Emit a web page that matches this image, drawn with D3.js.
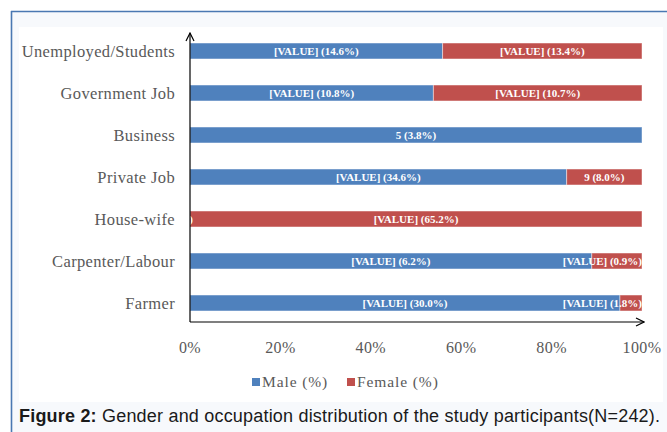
<!DOCTYPE html>
<html>
<head>
<meta charset="utf-8">
<script src="https://cdn.jsdelivr.net/npm/d3@7"></script>
<style>
  html, body { margin: 0; padding: 0; background: #fff; }
  svg { display: block; }
</style>
</head>
<body>
<svg id="chart" width="667" height="432"></svg>
<script>
(function () {
  'use strict';

  const W = 667;
  const H = 432;

  // occupations, top to bottom
  const categories = ['Unemployed/Students', 'Government Job', 'Business', 'Private Job',
    'House-wife', 'Carpenter/Labour', 'Farmer'];
  // counts (male total 130, female total 112)
  const maleCounts = [19, 14, 5, 45, 0, 8, 39];
  const femaleCounts = [15, 12, 0, 9, 73, 1, 2];
  // label text as printed on the bars
  const maleLabels = ['[VALUE] (14.6%)', '[VALUE] (10.8%)', '5 (3.8%)', '[VALUE] (34.6%)',
    '0 (0.0%)', '[VALUE] (6.2%)', '[VALUE] (30.0%)'];
  const femaleLabels = ['[VALUE] (13.4%)', '[VALUE] (10.7%)', '', '9 (8.0%)',
    '[VALUE] (65.2%)', '[VALUE] (0.9%)', '[VALUE] (1.8%)'];
  const ticks = [0, 0.2, 0.4, 0.6, 0.8, 1];
  const series = ['Male (%)', 'Female (%)'];
  const colors = ['#4f81bd', '#c0504d'];

  const svg = d3.select('#chart');
  const serif = '"Liberation Serif", "Times New Roman", serif';

  // page frame
  svg.append('rect').attr('x', 0).attr('y', 0).attr('width', W).attr('height', H).attr('fill', '#fff');
  svg.append('rect').attr('x', 11).attr('y', 11).attr('width', W - 11).attr('height', H - 11)
    .attr('fill', '#f7f9fc');
  svg.append('line').attr('x1', 11).attr('x2', W).attr('y1', 11.5).attr('y2', 11.5)
    .attr('stroke', '#4a78b2').attr('stroke-width', 1.6);
  svg.append('line').attr('x1', 11.5).attr('x2', 11.5).attr('y1', 11).attr('y2', H)
    .attr('stroke', '#4a78b2').attr('stroke-width', 1.6);
  svg.append('rect').attr('x', 19).attr('y', 27).attr('width', 644).attr('height', 375)
    .attr('fill', '#fff');

  const x = d3.scaleLinear().domain([0, 1]).range([190, 642]);
  const y = d3.scaleBand().domain(categories).range([30, 324])
    .paddingInner(0.62).paddingOuter(0.31);

  const rows = categories.map((c, i) => {
    const tot = maleCounts[i] + femaleCounts[i];
    const m = maleCounts[i] / tot;
    return [
      { cat: c, s: 0, x0: 0, x1: m, v: maleCounts[i], label: maleLabels[i] },
      { cat: c, s: 1, x0: m, x1: 1, v: femaleCounts[i], label: femaleLabels[i] }
    ];
  }).flat();

  svg.append('g').selectAll('rect')
    .data(rows.filter(d => d.v > 0))
    .join('rect')
    .attr('x', d => x(d.x0))
    .attr('y', d => y(d.cat))
    .attr('width', d => x(d.x1) - x(d.x0))
    .attr('height', y.bandwidth())
    .attr('fill', d => colors[d.s])
    .attr('stroke', 'rgba(255,255,255,0.45)')
    .attr('stroke-width', 1);

  // bar labels
  const lab = svg.append('g')
    .style('font-family', serif)
    .style('font-weight', 'bold')
    .style('font-size', '11px')
    .attr('fill', '#fff');

  rows.filter(d => d.label).forEach(d => {
    const t = lab.append('text')
      .attr('y', y(d.cat) + y.bandwidth() / 2)
      .attr('dy', '0.35em');
    if (d.v === 0) {
      // zero-width segment: only the tail of the label shows over the bar
      t.attr('x', x(d.x0) + 3).attr('text-anchor', 'end').text(d.label.slice(-1));
      return;
    }
    t.text(d.label);
    const w = t.node().getComputedTextLength();
    let cx = (x(d.x0) + x(d.x1)) / 2;
    if (cx + w / 2 > x(1)) cx = x(1) - w / 2;
    t.attr('x', cx).attr('text-anchor', 'middle');
  });

  // category labels
  svg.append('g').selectAll('text')
    .data(categories)
    .join('text')
    .attr('x', 175)
    .attr('y', d => y(d) + y.bandwidth() / 2)
    .attr('dy', '0.35em')
    .attr('text-anchor', 'end')
    .style('font-family', serif)
    .style('font-size', '16.5px')
    .style('letter-spacing', '0.35px')
    .attr('fill', '#595959')
    .text(d => d);

  // axes with arrows
  const defs = svg.append('defs');
  defs.append('marker').attr('id', 'arrow')
    .attr('viewBox', '0 0 10 10').attr('refX', 9).attr('refY', 5)
    .attr('markerWidth', 10).attr('markerHeight', 10).attr('markerUnits', 'userSpaceOnUse')
    .attr('orient', 'auto')
    .append('path').attr('d', 'M1,1 L9,5 L1,9')
    .attr('fill', 'none').attr('stroke', '#000').attr('stroke-width', 1.2);

  svg.append('line').attr('x1', x(0)).attr('x2', x(0)).attr('y1', 322).attr('y2', 33)
    .attr('stroke', '#000').attr('stroke-width', 1.2).attr('marker-end', 'url(#arrow)');
  svg.append('line').attr('x1', x(0)).attr('x2', x(1) + 2).attr('y1', 322).attr('y2', 322)
    .attr('stroke', '#000').attr('stroke-width', 1.2).attr('marker-end', 'url(#arrow)');

  svg.append('g').selectAll('text')
    .data(ticks)
    .join('text')
    .attr('x', d => x(d))
    .attr('y', 347)
    .attr('dy', '0.35em')
    .attr('text-anchor', 'middle')
    .style('font-family', serif)
    .style('font-size', '16px')
    .style('letter-spacing', '0.4px')
    .attr('fill', '#595959')
    .text(d => d3.format('.0%')(d));

  // legend
  const legX = [252, 347];
  const leg = svg.append('g');
  series.forEach((s, i) => {
    leg.append('rect').attr('x', legX[i]).attr('y', 378).attr('width', 8).attr('height', 8)
      .attr('fill', colors[i]);
    leg.append('text').attr('x', legX[i] + 10).attr('y', 382).attr('dy', '0.35em')
      .style('font-family', serif)
      .style('font-size', '15.5px')
      .style('letter-spacing', '0.9px')
      .attr('fill', '#595959')
      .text(s);
  });

  // caption
  const cap = svg.append('text')
    .attr('x', 19).attr('y', 416).attr('dy', '0.35em')
    .attr('textLength', 641).attr('lengthAdjust', 'spacing')
    .style('font-family', '"Liberation Sans", Arial, sans-serif')
    .style('font-size', '18px')
    .attr('fill', '#1a1a1a');
  cap.append('tspan').style('font-weight', 'bold').text('Figure 2:');
  cap.append('tspan').text(' Gender and occupation distribution of the study participants(N=242).');
})();
</script>
</body>
</html>
